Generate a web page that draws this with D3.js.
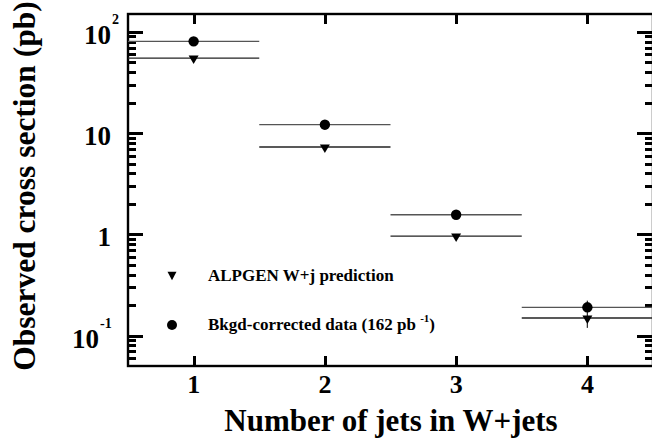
<!DOCTYPE html>
<html><head><meta charset="utf-8">
<script src="https://cdn.jsdelivr.net/npm/d3@7"></script>
<style>
html,body{margin:0;padding:0;background:#fff;}
svg{display:block;}
text{font-family:"Liberation Serif","Times New Roman",serif;font-weight:bold;fill:#000;}
</style></head>
<body>
<svg id="chart" width="652" height="442"></svg>
<script>
// ---- data ----
const nJets = [1, 2, 3, 4];
const binHalfWidth = 0.5;
const dataXsec = [80.5, 12.1, 1.56, 0.190];          // Bkgd-corrected data (circles)
const predXsec = [55.1, 7.28, 0.96, 0.149];          // ALPGEN W+j prediction (triangles)
const dataErrLow = [null, null, null, 0.119];
const dataErrHigh = [null, null, null, 0.221];
const xTicks = [1, 2, 3, 4];
const yMajorTicks = [0.1, 1, 10, 100];
const yTickBase = ["10", "1", "10", "10"];
const yTickExp = ["-1", "", "", "2"];
const yDomain = [0.05, 150];
const xDomain = [0.5, 4.5];
const legendLabels = ["ALPGEN W+j prediction", "Bkgd-corrected data (162 pb"];

// ---- layout ----
const svg = d3.select("#chart");
const L = 128, R = 653, T = 14, B = 366;
const x = d3.scaleLinear().domain(xDomain).range([L, R]);
const y = d3.scaleLog().domain(yDomain).range([B, T]);

const minor = [];
[0.01, 0.1, 1, 10, 100].forEach(d => { for (let k = 2; k <= 9; k++) { const v = d * k; if (v > yDomain[0] && v < yDomain[1]) minor.push(v); } });
const yTickData = yMajorTicks.map(v => ({v: v, len: 15})).concat(minor.map(v => ({v: v, len: 8})));

// frame
svg.append("rect").attr("x", L).attr("y", T).attr("width", R - L).attr("height", B - T)
  .attr("fill", "none").attr("stroke", "#000").attr("stroke-width", 2.4);

// tick marks
const tickPath = d3.path();
yTickData.forEach(d => {
  const yy = Math.round(y(d.v)) + 0.5;
  tickPath.moveTo(L, yy); tickPath.lineTo(L + d.len, yy);
  tickPath.moveTo(R, yy); tickPath.lineTo(R - d.len - (d.len > 10 ? 1 : 0), yy);
});
xTicks.forEach(t => {
  const xx = Math.round(x(t)) + 0.5;
  tickPath.moveTo(xx, B); tickPath.lineTo(xx, B - 10);
  tickPath.moveTo(xx, T); tickPath.lineTo(xx, T + 10);
});
svg.append("path").attr("d", tickPath.toString())
  .attr("fill", "none").attr("stroke", "black").attr("stroke-width", 3)
  .attr("shape-rendering", "crispEdges");

// x tick labels
svg.selectAll("text.xl").data(xTicks).enter().append("text").attr("class", "xl")
  .attr("x", d => x(d)).attr("y", 393).attr("text-anchor", "middle")
  .style("font-size", "26px").text(d => d);

// y tick labels
yMajorTicks.forEach((v, i) => {
  const endX = yTickExp[i] === "-1" ? 99 : 111;
  svg.append("text").attr("x", endX).attr("y", y(v) + 12).attr("text-anchor", "end")
    .style("font-size", "27px").text(yTickBase[i]);
  if (yTickExp[i]) {
    svg.append("text").attr("x", endX + 1).attr("y", y(v) - 8).style("font-size", "14px").text(yTickExp[i]);
  }
});

// axis titles
svg.append("text").attr("x", 391).attr("y", 431).attr("text-anchor", "middle")
  .style("font-size", "31px").text("Number of jets in W+jets");
svg.append("text").attr("transform", "translate(35,186) rotate(-90)").attr("text-anchor", "middle")
  .style("font-size", "31.5px").text("Observed cross section (pb)");

// data: horizontal bin lines
svg.selectAll("line.pl").data(nJets).enter().append("line").attr("class", "pl")
  .attr("x1", d => x(d - binHalfWidth)).attr("x2", d => x(d + binHalfWidth))
  .attr("y1", (d, i) => y(predXsec[i])).attr("y2", (d, i) => y(predXsec[i]))
  .attr("stroke", "#222").attr("stroke-width", 1.3);
svg.selectAll("line.dl").data(nJets).enter().append("line").attr("class", "dl")
  .attr("x1", d => x(d - binHalfWidth)).attr("x2", d => x(d + binHalfWidth))
  .attr("y1", (d, i) => y(dataXsec[i])).attr("y2", (d, i) => y(dataXsec[i]))
  .attr("stroke", "#555").attr("stroke-width", 1.3);
// error bars
const errIdx = nJets.map((d, i) => i).filter(i => dataErrLow[i] != null);
svg.selectAll("line.eb").data(errIdx).enter().append("line").attr("class", "eb")
  .attr("x1", i => x(nJets[i])).attr("x2", i => x(nJets[i]))
  .attr("y1", i => y(dataErrHigh[i])).attr("y2", i => y(dataErrLow[i]))
  .attr("stroke", "#333").attr("stroke-width", 1.3);

const triPath = (cx, cy, w, h, off) => `M${cx - w / 2},${cy - off}L${cx + w / 2},${cy - off}L${cx},${cy - off + h}Z`;
svg.selectAll("path.tri").data(nJets).enter().append("path").attr("class", "tri")
  .attr("d", (d, i) => triPath(x(d), y(predXsec[i]), 10, 8.5, 2.5)).attr("fill", "#000");
svg.selectAll("circle.circ").data(nJets).enter().append("circle").attr("class", "circ")
  .attr("cx", d => x(d)).attr("cy", (d, i) => y(dataXsec[i])).attr("r", 5.2).attr("fill", "#000");

// legend
svg.append("path").attr("d", triPath(172, 276, 9, 8.5, 4.2)).attr("fill", "#000");
svg.append("circle").attr("cx", 172).attr("cy", 325).attr("r", 5).attr("fill", "#000");
svg.append("text").attr("x", 208).attr("y", 281).style("font-size", "17px").text(legendLabels[0]);
const lt = svg.append("text").attr("x", 208).attr("y", 330).style("font-size", "17px");
lt.append("tspan").text(legendLabels[1] + " ");
lt.append("tspan").attr("dy", -8).style("font-size", "11px").text("-1");
lt.append("tspan").attr("dy", 8).text(")");
</script>
</body></html>
